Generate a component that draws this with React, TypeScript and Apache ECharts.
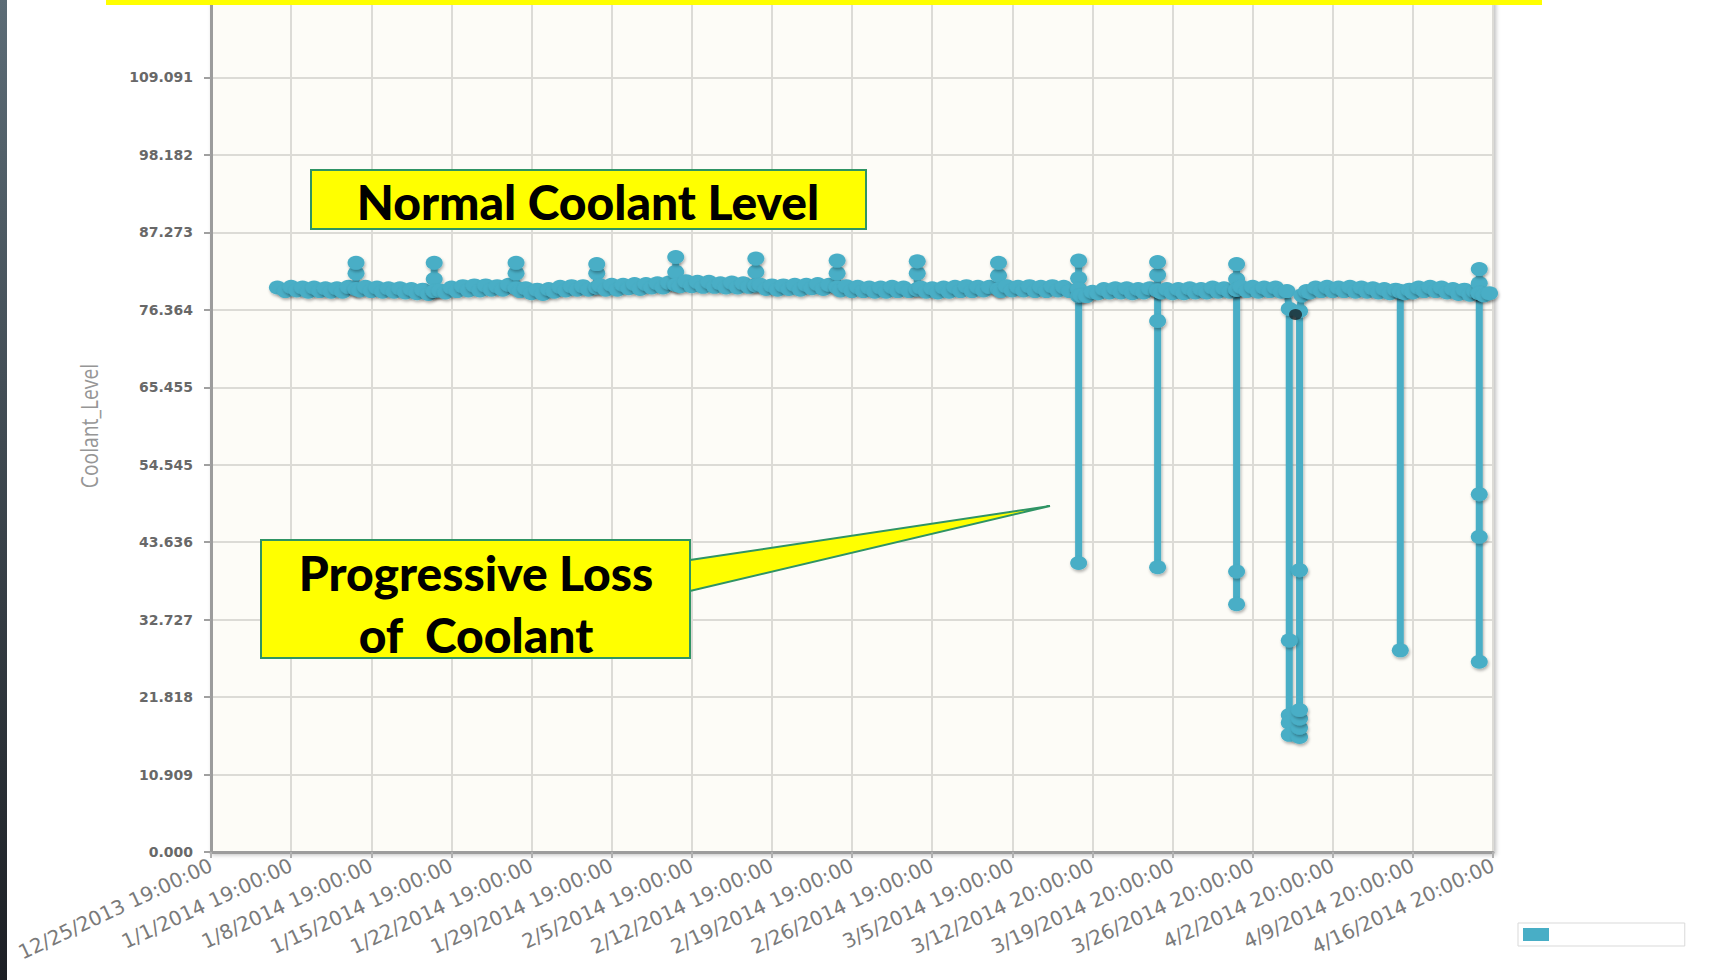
import React, { useEffect, useRef } from "react";
import * as echarts from "echarts";

// X axis: days since 12/25/2013 19:00:00, one labelled tick per week
const weekTickLabels = [
  "12/25/2013 19:00:00",
  "1/1/2014 19:00:00",
  "1/8/2014 19:00:00",
  "1/15/2014 19:00:00",
  "1/22/2014 19:00:00",
  "1/29/2014 19:00:00",
  "2/5/2014 19:00:00",
  "2/12/2014 19:00:00",
  "2/19/2014 19:00:00",
  "2/26/2014 19:00:00",
  "3/5/2014 19:00:00",
  "3/12/2014 20:00:00",
  "3/19/2014 20:00:00",
  "3/26/2014 20:00:00",
  "4/2/2014 20:00:00",
  "4/9/2014 20:00:00",
  "4/16/2014 20:00:00",
];

// Regular readings (day offset, coolant level)
const baselineDays = [
  5.8, 6.5, 7, 7.5, 8, 8.5, 9, 9.5, 10, 10.5, 11, 11.5, 12, 13, 13.5, 14, 14.5, 15, 15.5, 16,
  16.5, 17, 17.5, 18, 18.5, 19, 20, 20.5, 21, 21.5, 22, 22.5, 23, 23.5, 24, 24.5, 25, 25.5, 26, 27,
  27.5, 28, 28.5, 29, 29.5, 30, 30.5, 31, 31.5, 32, 32.5, 33, 34, 34.5, 35, 35.5, 36, 36.5, 37, 37.5,
  38, 38.5, 39, 39.5, 40, 41, 41.5, 42, 42.5, 43, 43.5, 44, 44.5, 45, 45.5, 46, 46.5, 47, 48, 48.5,
  49, 49.5, 50, 50.5, 51, 51.5, 52, 52.5, 53, 53.5, 54, 55, 55.5, 56, 56.5, 57, 57.5, 58, 58.5, 59,
  59.5, 60, 60.5, 61, 62, 62.5, 63, 63.5, 64, 64.5, 65, 65.5, 66, 66.5, 67, 67.5, 68, 69, 69.5, 70,
  70.5, 71, 71.5, 72, 72.5, 73, 73.5, 74, 74.5, 75, 76, 76.5, 77, 77.5, 78, 78.5, 79, 79.5, 80, 80.5,
  81, 81.5, 82, 83, 83.5, 84, 84.5, 85, 85.5, 86, 86.5, 87, 87.5, 88, 88.5, 89, 90, 90.5, 91, 91.5,
  92, 92.5, 93, 93.5, 94, 95.3, 95.7, 96, 96.5, 97, 97.5, 98, 98.5, 99, 99.5, 100, 100.5, 101, 101.5,
  102, 102.5, 103, 103.5, 104.3, 104.7, 105, 105.5, 106, 106.5, 107, 107.5, 108, 108.5, 109, 109.5,
  110, 110.4, 111.2, 111.7,
];
const baselineLevels = [
  79.5, 79.0, 79.6, 79.1, 79.5, 78.9, 79.5, 79.0, 79.4, 78.9, 79.4, 78.9, 79.6, 79.1, 79.6, 79.0, 79.5, 78.9, 79.4, 78.9,
  79.4, 78.8, 79.3, 78.7, 79.2, 78.6, 79.1, 78.8, 79.5, 79.0, 79.7, 79.1, 79.8, 79.1, 79.8, 79.2, 79.7, 79.2, 79.9, 79.0,
  79.4, 78.7, 79.2, 78.6, 79.3, 78.9, 79.6, 79.1, 79.7, 79.2, 79.7, 79.2, 79.8, 79.2, 79.9, 79.2, 79.9, 79.4, 80.0, 79.3,
  80.0, 79.5, 80.1, 79.5, 80.2, 79.7, 80.4, 79.7, 80.3, 79.6, 80.3, 79.6, 80.1, 79.5, 80.2, 79.5, 80.1, 79.6, 79.9, 79.3,
  79.8, 79.2, 79.8, 79.3, 79.9, 79.2, 79.9, 79.4, 80.0, 79.3, 79.9, 79.1, 79.7, 79.0, 79.6, 79.0, 79.5, 78.9, 79.5, 78.9,
  79.6, 79.0, 79.5, 79.0, 79.5, 78.9, 79.4, 78.8, 79.5, 78.9, 79.6, 79.0, 79.7, 79.0, 79.6, 79.1, 79.6, 79.0, 79.7, 79.1,
  79.6, 79.1, 79.7, 79.0, 79.6, 79.0, 79.7, 79.1, 79.6, 79.0, 78.4, 78.3, 78.9, 78.7, 79.3, 78.8, 79.4, 78.8, 79.4, 78.7,
  79.3, 78.8, 79.4, 78.8, 79.3, 78.7, 79.3, 78.7, 79.4, 78.8, 79.3, 78.8, 79.5, 78.9, 79.4, 78.9, 79.6, 79.0, 79.6, 78.9,
  79.5, 79.0, 79.5, 78.9, 79.0, 78.4, 79.0, 78.8, 79.5, 79.0, 79.6, 79.0, 79.5, 79.0, 79.6, 78.9, 79.5, 78.9, 79.4,
  78.8, 79.3, 78.7, 79.2, 78.7, 79.2, 78.8, 79.5, 79.0, 79.6, 79.0, 79.5, 78.8, 79.3, 78.6, 79.2,
  78.5, 79.0, 78.4, 78.7,
];

// Short events: readings taken in quick succession at one moment
const eventDays = [
  12.67, 19.5, 26.65, 33.7, 40.6, 47.6, 54.7, 61.7, 68.8, 75.8, 82.7, 89.6,
  94.2, 95.1, 103.9, 110.8,
];
const eventLevels = [
  [79.3, 81.5, 83.0, 79.3],
  [79.0, 80.7, 83.0, 79.0],
  [79.5, 81.5, 83.0, 79.4],
  [79.5, 81.5, 82.8, 79.5],
  [79.9, 81.7, 83.8, 79.9],
  [79.9, 81.7, 83.6, 79.8],
  [79.6, 81.5, 83.3, 79.5],
  [79.3, 81.5, 83.2, 79.2],
  [79.3, 81.2, 83.0, 79.3],
  [79.3, 80.8, 83.3, 79.3, 40.7, 78.3],
  [79.1, 81.3, 83.1, 79.1, 74.8, 40.1, 79.1],
  [79.2, 80.7, 82.8, 79.2, 39.5, 34.9, 79.2],
  [76.5, 29.8, 19.3, 18.2, 16.5],
  [16.2, 17.5, 18.8, 20.0, 39.7, 76.2],
  [79.0, 28.4, 78.9],
  [78.8, 80.1, 82.1, 78.7, 50.4, 44.4, 26.8, 78.7],
];

// One reading drawn in a dark colour (selected point in the source)
const selectedDays = [94.75];
const selectedLevels = [75.7];

const yTickStep = 120 / 11;
const TEAL = "#48aec6";

function buildPoints(): [number, number][] {
  const items: { p: [number, number]; k: number }[] = [];
  let k = 0;
  baselineDays.forEach((d, i) => items.push({ p: [d, baselineLevels[i]], k: k++ }));
  eventDays.forEach((d, i) =>
    eventLevels[i].forEach((v) => items.push({ p: [d, v], k: k++ }))
  );
  items.sort((a, b) => a.p[0] - b.p[0] || a.k - b.k);
  return items.map((o) => o.p);
}

const calloutText = {
  fill: "#000",
  fontFamily: "Lato",
  fontWeight: 900,
  fontSize: 48,
  align: "center",
  verticalAlign: "middle",
  textAlign: "center",
  textVerticalAlign: "middle",
};

const markShadow = {
  shadowColor: "rgba(0,0,0,0.3)",
  shadowBlur: 3,
  shadowOffsetX: 1,
  shadowOffsetY: 2,
};

export default function App() {
  const ref = useRef<HTMLDivElement>(null);

  useEffect(() => {
    if (!ref.current) return;
    const chart = echarts.init(ref.current, undefined, { renderer: "svg" });
    const points = buildPoints();

    const option: any = {
      animation: false,
      backgroundColor: "#ffffff",
      grid: {
        left: 211,
        right: 222,
        top: 0,
        bottom: 128,
        show: true,
        backgroundColor: "#fdfcf7",
        borderColor: "#a6a6a6",
        borderWidth: 2,
        shadowColor: "rgba(0,0,0,0.25)",
        shadowBlur: 4,
        shadowOffsetX: 2,
        shadowOffsetY: 2,
      },
      legend: {
        show: true,
        left: 1518,
        top: 923,
        icon: "rect",
        itemWidth: 26,
        itemHeight: 13,
        formatter: () => " ",
        padding: [5, 128, 5, 5],
        borderColor: "#d9d9d9",
        borderWidth: 1,
        textStyle: { fontSize: 10 },
        data: ["Coolant_Level"],
      },
      xAxis: {
        type: "value",
        min: 0,
        max: 112,
        interval: 7,
        axisLine: { show: true, lineStyle: { color: "#9c9c9c", width: 3 } },
        axisTick: { show: true, length: 6, lineStyle: { color: "#b0b0b0", width: 2 } },
        splitLine: { show: true, lineStyle: { color: "#dcdbd6", width: 2 } },
        axisLabel: {
          rotate: 25,
          margin: 12,
          fontFamily: "DejaVu Sans",
          fontSize: 20,
          color: "#7a7a7a",
          showMinLabel: true,
          showMaxLabel: true,
          formatter: (v: number) => weekTickLabels[Math.round(v / 7)] ?? "",
        },
      },
      yAxis: {
        type: "value",
        min: 0,
        max: 120,
        interval: yTickStep,
        axisLine: { show: true, lineStyle: { color: "#9c9c9c", width: 3 } },
        axisTick: { show: true, length: 7, lineStyle: { color: "#a0a0a0", width: 2 } },
        splitLine: { show: true, lineStyle: { color: "#dcdbd6", width: 2 } },
        axisLabel: {
          margin: 18,
          fontFamily: "DejaVu Sans",
          fontWeight: "bold",
          fontSize: 14,
          color: "#686868",
          formatter: (v: number) => (v > 115 ? "" : v.toFixed(3)),
        },
      },
      series: [
        {
          name: "Coolant_Level",
          type: "line",
          data: points,
          symbol: "circle",
          symbolSize: [17, 14],
          showSymbol: true,
          color: TEAL,
          lineStyle: { color: TEAL, width: 7, ...markShadow },
          itemStyle: { color: TEAL, ...markShadow },
          z: 3,
        },
        {
          name: "Selected",
          type: "scatter",
          data: selectedDays.map((d, i) => [d, selectedLevels[i]]),
          symbol: "circle",
          symbolSize: [13, 11],
          itemStyle: { color: "#18262a" },
          z: 4,
        },
      ],
      graphic: [
        {
          type: "rect",
          shape: { x: 0, y: 0, width: 7, height: 980 },
          style: {
            fill: new echarts.graphic.LinearGradient(0, 0, 0, 1, [
              { offset: 0, color: "#5c6c76" },
              { offset: 1, color: "#1c1f24" },
            ]),
          },
          z: 100,
        },
        {
          type: "rect",
          shape: { x: 106, y: 0, width: 1436, height: 5 },
          style: { fill: "#ffff00" },
          z: 100,
        },
        {
          type: "text",
          x: 89,
          y: 426,
          rotation: Math.PI / 2,
          scaleX: 0.84,
          style: {
            text: "Coolant_Level",
            x: 0,
            y: 0,
            fill: "#969696",
            fontFamily: "Open Sans",
            fontSize: 23,
            align: "center",
            verticalAlign: "middle",
            textAlign: "center",
            textVerticalAlign: "middle",
          },
          z: 100,
        },
        {
          type: "polygon",
          shape: { points: [[690, 560], [1050, 506], [690, 591]] },
          style: { fill: "#ffff00", stroke: "#2f9464", lineWidth: 2 },
          z: 100,
        },
        {
          type: "rect",
          shape: { x: 261, y: 540, width: 429, height: 118 },
          style: { fill: "#ffff00", stroke: "#2f9464", lineWidth: 2 },
          z: 101,
        },
        {
          type: "text",
          style: { ...calloutText, text: "Progressive Loss", x: 476, y: 572 },
          z: 102,
        },
        {
          type: "text",
          style: { ...calloutText, text: "of  Coolant", x: 476, y: 634 },
          z: 102,
        },
        {
          type: "rect",
          shape: { x: 311, y: 170, width: 555, height: 59 },
          style: { fill: "#ffff00", stroke: "#2f9464", lineWidth: 2 },
          z: 101,
        },
        {
          type: "text",
          style: { ...calloutText, text: "Normal Coolant Level", x: 588, y: 201 },
          z: 102,
        },
      ],
    };

    chart.setOption(option);
    return () => chart.dispose();
  }, []);

  return (
    <div
      ref={ref}
      style={{ position: "absolute", left: 0, top: 0, width: 1715, height: 980 }}
    />
  );
}
